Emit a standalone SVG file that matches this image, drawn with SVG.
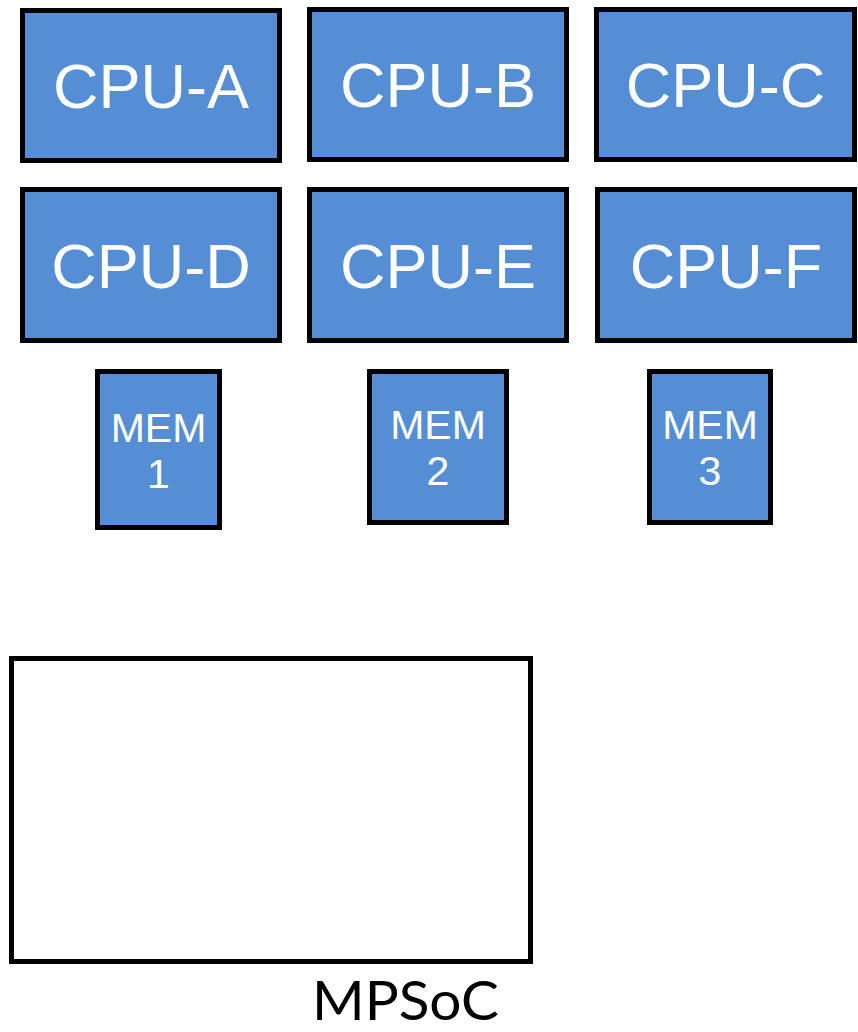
<svg xmlns="http://www.w3.org/2000/svg" width="858" height="1032" viewBox="0 0 858 1032">
<style>
.box{fill:#558ED5;stroke:#000;stroke-width:5}
.cpu{font-family:"Liberation Sans",Arial,sans-serif;font-size:63px;fill:#fff;text-anchor:middle}
.mem{font-family:"Liberation Sans",Arial,sans-serif;font-size:41px;fill:#fff;text-anchor:middle}
</style>
<rect width="858" height="1032" fill="#fff"/>
<g id="cpu-a"><rect class="box" x="22.5" y="10.5" width="257" height="150"/><text class="cpu" x="151" y="108">CPU-A</text></g>
<g id="cpu-b"><rect class="box" x="309.5" y="9.5" width="257" height="150"/><text class="cpu" x="438" y="107">CPU-B</text></g>
<g id="cpu-c"><rect class="box" x="596.5" y="9.5" width="258" height="150"/><text class="cpu" x="725.5" y="107">CPU-C</text></g>
<g id="cpu-d"><rect class="box" x="22.5" y="189.5" width="257" height="151"/><text class="cpu" x="151" y="288">CPU-D</text></g>
<g id="cpu-e"><rect class="box" x="309.5" y="189.5" width="257" height="151"/><text class="cpu" x="438" y="288">CPU-E</text></g>
<g id="cpu-f"><rect class="box" x="597.5" y="189.5" width="257" height="151"/><text class="cpu" x="726" y="288">CPU-F</text></g>
<g id="mem-1"><rect class="box" x="97.5" y="371.5" width="122" height="156"/><text class="mem" x="158.5" y="442">MEM</text><text class="mem" x="158.5" y="488">1</text></g>
<g id="mem-2"><rect class="box" x="369.5" y="371.5" width="137" height="151"/><text class="mem" x="438" y="439">MEM</text><text class="mem" x="438" y="485">2</text></g>
<g id="mem-3"><rect class="box" x="649.5" y="371.5" width="121" height="151"/><text class="mem" x="710" y="439">MEM</text><text class="mem" x="710" y="485">3</text></g>
<g id="mpsoc"><rect x="11.5" y="658.5" width="519" height="303" fill="#fff" stroke="#000" stroke-width="5"/><text x="405.5" y="1020" font-family="Lato,'Open Sans',sans-serif" font-size="54" fill="#000" text-anchor="middle" textLength="187" lengthAdjust="spacingAndGlyphs">MPSoC</text></g>
<g id="connectors"></g>
</svg>
